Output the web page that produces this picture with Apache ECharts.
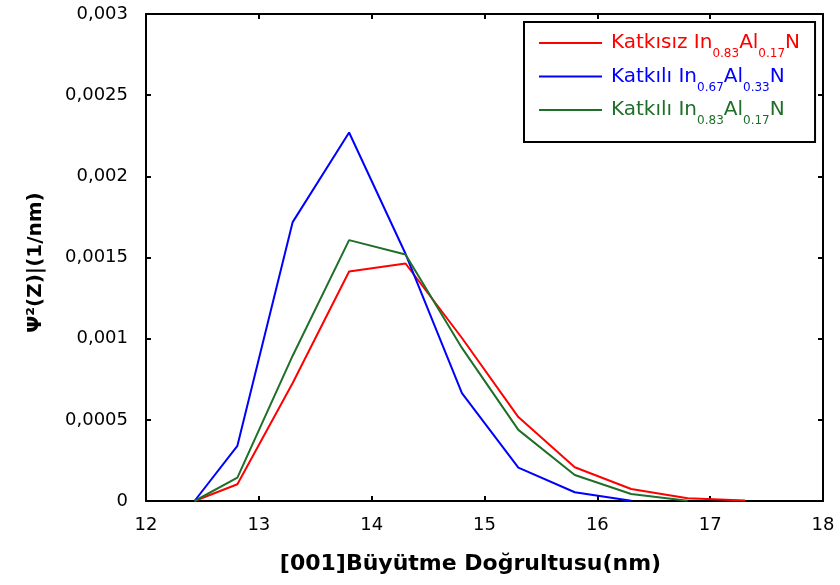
<!DOCTYPE html>
<html>
<head>
<meta charset="utf-8">
<title>Dalga fonksiyonu</title>
<script src="https://cdn.jsdelivr.net/npm/echarts@6/dist/echarts.min.js"></script>
<style>
  html, body { margin: 0; padding: 0; background: #fff; }
  #chart { width: 840px; height: 585px; }
</style>
</head>
<body>
<div id="chart"></div>
<script>
// konum (nm)
var xValues = [12.43, 12.81, 13.3, 13.8, 14.3, 14.8, 15.3, 15.8, 16.3, 16.8, 17.31]
// Katkısız In0.83Al0.17N
var redValues = [0, 0.000103, 0.000727, 0.001414, 0.001463, 0.001004, 0.000517, 0.000208, 0.000074, 0.000017, 0.000003]
// Katkılı In0.67Al0.33N
var blueValues = [0, 0.00034, 0.001718, 0.00227, 0.001523, 0.000665, 0.000206, 0.000054, 0.000002]
// Katkılı In0.83Al0.17N
var greenValues = [0, 0.000144, 0.000895, 0.001607, 0.001519, 0.000943, 0.000438, 0.00016, 0.000043, 0.000002]

var seriesNames = ['red', 'blue', 'green']
var legendLabels = [
  ['Katkısız In', '0.83', 'Al', '0.17', 'N'],
  ['Katkılı In', '0.67', 'Al', '0.33', 'N'],
  ['Katkılı In', '0.83', 'Al', '0.17', 'N']
]
var colorList = ['#ff0000', '#0000ff', '#1f6f28']

function pairs(ys) {
  return ys.map(function(y, i) { return [xValues[i], y] })
}

function richLabel(parts) {
  return '{a|' + parts[0] + '}{s|' + parts[1] + '}{m|' + parts[2] + '}{s|' + parts[3] + '}{m|' + parts[4] + '}'
}

var font = '"DejaVu Sans", Arial, sans-serif'
var axisLine = { onZero: false, lineStyle: { color: '#000', width: 2 } }
// ticks drawn towards the plot
var tickStyle = { show: true, inside: true, length: 5, lineStyle: { color: '#000', width: 2 } }

var chart = echarts.init(document.getElementById('chart'))

chart.setOption({
  animation: false,
  color: colorList,
  grid: {
    left: 146,
    top: 14,
    right: 17,
    bottom: 84
  },
  legend: {
    orient: 'vertical',
    left: 524,
    top: 22,
    padding: [4, 15, 15, 15],
    itemGap: -0.5,
    itemWidth: 63,
    itemHeight: 2,
    icon: 'rect',
    borderColor: '#000',
    borderWidth: 2,
    data: seriesNames.map(function(n, i) {
      return { name: n, textStyle: { color: colorList[i] } }
    }),
    formatter: function(name) {
      return richLabel(legendLabels[seriesNames.indexOf(name)])
    },
    textStyle: {
      fontFamily: font,
      rich: {
        a: { fontFamily: font, fontSize: 20, lineHeight: 22, padding: [0, 0, 0, 4] },
        m: { fontFamily: font, fontSize: 20, lineHeight: 22 },
        s: { fontFamily: font, fontSize: 12, lineHeight: 14, padding: [22, 0, 0, 0] }
      }
    }
  },
  xAxis: [
    {
      type: 'value',
      min: 12,
      max: 18,
      interval: 1,
      name: '[001]Büyütme Doğrultusu(nm)',
      nameLocation: 'middle',
      nameGap: 52,
      nameTextStyle: { fontFamily: font, fontSize: 22, fontWeight: 'bold', color: '#000', padding: [0, 28, 0, 0] },
      axisLine: axisLine,
      axisTick: tickStyle,
      axisLabel: { fontFamily: font, fontSize: 18, color: '#000', margin: 15 },
      splitLine: { show: false }
    },
    {
      type: 'value',
      position: 'top',
      min: 12,
      max: 18,
      interval: 1,
      axisLine: axisLine,
      axisTick: tickStyle,
      axisLabel: { show: false },
      splitLine: { show: false }
    }
  ],
  yAxis: [
    {
      type: 'value',
      min: 0,
      max: 0.003,
      interval: 0.0005,
      name: 'Ψ²(Z)|(1/nm)',
      nameLocation: 'middle',
      nameGap: 100,
      nameTextStyle: { fontFamily: font, fontSize: 20, fontWeight: 'bold', color: '#000', padding: [0, 10, 0, 0] },
      axisLine: axisLine,
      axisTick: tickStyle,
      axisLabel: {
        fontFamily: font,
        fontSize: 18,
        color: '#000',
        margin: 18,
        formatter: function(v) {
          return String(+v.toFixed(4)).replace('.', ',')
        }
      },
      splitLine: { show: false }
    },
    {
      type: 'value',
      position: 'right',
      min: 0,
      max: 0.003,
      interval: 0.0005,
      axisLine: axisLine,
      axisTick: tickStyle,
      axisLabel: { show: false },
      splitLine: { show: false }
    }
  ],
  series: [
    { name: 'red', type: 'line', data: pairs(redValues), showSymbol: false, lineStyle: { width: 2 } },
    { name: 'blue', type: 'line', data: pairs(blueValues), showSymbol: false, lineStyle: { width: 2 } },
    { name: 'green', type: 'line', data: pairs(greenValues), showSymbol: false, lineStyle: { width: 2 } }
  ]
})
</script>
</body>
</html>
